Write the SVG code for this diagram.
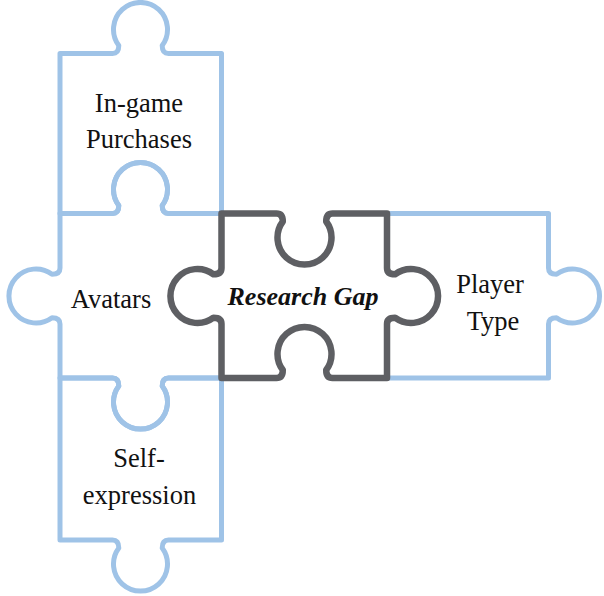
<svg xmlns="http://www.w3.org/2000/svg" width="604" height="596" viewBox="0 0 604 596">
<style>
.light{fill:none;stroke:#9FC3E7;stroke-width:5;stroke-linejoin:round;stroke-linecap:round}
.dark{fill:none;stroke:#5E5F63;stroke-width:6.5;stroke-linejoin:round;stroke-linecap:round}
.lbl{font-family:"Liberation Serif","Times New Roman",serif;font-size:26.5px;fill:#111;text-anchor:middle}
.gap{font-weight:bold;font-style:italic;font-size:26px}
</style>
<rect width="604" height="596" fill="#fff"/>
<g id="ingame">
<path class="light" d="M60,53.5 H112.5 Q118.8,53.5 118.8,45.5 A27,27 0 1 1 162.2,45.5 Q162.2,53.5 168.5,53.5 H221.5 V213.5 H168.5 Q162.2,213.5 162.2,205.5 A27,27 0 1 0 118.8,205.5 Q118.8,213.5 112.5,213.5 H60 Z"/>
<text class="lbl" x="139" y="112">In-game</text>
<text class="lbl" x="139" y="148">Purchases</text>
</g>
<g id="avatars">
<path class="light" d="M60,213.5 H112.5 Q118.8,213.5 118.8,205.5 A27,27 0 1 1 162.2,205.5 Q162.2,213.5 168.5,213.5 H221.5 V268 Q221.5,274.3 213.5,274.3 A27,27 0 1 0 213.5,317.7 Q221.5,317.7 221.5,324 V378 H168.5 Q162.2,378 162.2,386 A27,27 0 1 1 118.8,386 Q118.8,378 112.5,378 H60 V324 Q60,317.7 52,317.7 A27,27 0 1 1 52,274.3 Q60,274.3 60,268 Z"/>
<text class="lbl" x="111" y="308">Avatars</text>
</g>
<g id="selfexpression">
<path class="light" d="M60,378 H112.5 Q118.8,378 118.8,386 A27,27 0 1 0 162.2,386 Q162.2,378 168.5,378 H221.5 V540 H168.5 Q162.2,540 162.2,548 A27,27 0 1 1 118.8,548 Q118.8,540 112.5,540 H60 Z"/>
<text class="lbl" x="139" y="467">Self-</text>
<text class="lbl" x="139.5" y="504">expression</text>
</g>
<g id="playertype">
<path class="light" d="M387,213.5 H548.5 V268 Q548.5,274.3 556.5,274.3 A27,27 0 1 1 556.5,317.7 Q548.5,317.7 548.5,324 V378 H387 V324 Q387,317.7 395,317.7 A27,27 0 1 0 395,274.3 Q387,274.3 387,268 Z"/>
<text class="lbl" x="490" y="293">Player</text>
<text class="lbl" x="493" y="330">Type</text>
</g>
<g id="researchgap">
<path class="dark" d="M221.5,213.5 H276.5 Q282.8,213.5 282.8,221.5 A27,27 0 1 0 326.2,221.5 Q326.2,213.5 332.5,213.5 H387 V268 Q387,274.3 395,274.3 A27,27 0 1 1 395,317.7 Q387,317.7 387,324 V378 H332.5 Q326.2,378 326.2,370 A27,27 0 1 0 282.8,370 Q282.8,378 276.5,378 H221.5 V324 Q221.5,317.7 213.5,317.7 A27,27 0 1 1 213.5,274.3 Q221.5,274.3 221.5,268 Z"/>
<text class="lbl gap" x="303" y="305">Research Gap</text>
</g>
<g id="connectors"></g>
</svg>
